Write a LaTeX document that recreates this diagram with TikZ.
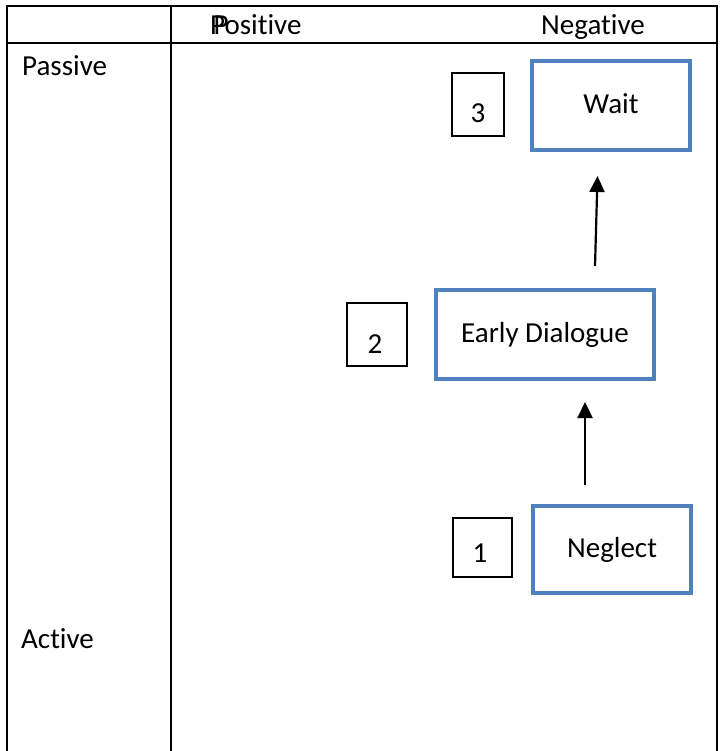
\documentclass[tikz,border=0pt]{standalone}
\usepackage{fontspec}
\setmainfont{Carlito}[Ligatures=NoCommon]
\usetikzlibrary{arrows.meta}
\definecolor{boxblue}{HTML}{4F81BD}
\tikzset{
  grid/.style={line width=2.4pt, black},
  bluebox/.style={draw=boxblue, line width=4pt, inner sep=0pt, font=\fontsize{29}{33}\selectfont},
  numbox/.style={draw=black, line width=1.3pt, inner sep=0pt},
  numtxt/.style={font=\fontsize{29}{33}\selectfont},
  lbl/.style={font=\fontsize{29}{33}\selectfont, inner sep=0pt, anchor=base west},
  flow/.style={line width=2.2pt, -{Triangle[width=15pt,length=16pt]}}
}
\begin{document}
\begin{tikzpicture}[x=1pt,y=-1pt]
\useasboundingbox (0,0) rectangle (721,751);
% table grid
\draw[grid] (7,751) -- (7,6) -- (717,6) -- (717,751);
\draw[grid] (7,43) -- (717,43);
\draw[grid] (171,6) -- (171,751);
% header and row labels
\node[lbl] (pos) at (210,35) {Positive};
\node[lbl] (pos2) at (213.5,35) {P};
\node[lbl] (neg) at (541,35) {Negative};
\node[lbl] (pas) at (22,76) {Passive};
\node[lbl] (act) at (21,648) {Active};
% main boxes
\node[bluebox, minimum width=158pt, minimum height=89pt] (wait) at (611,105.5) {\raisebox{3pt}{Wait}};
\node[bluebox, minimum width=218pt, minimum height=89pt] (early) at (545,334.5) {\raisebox{1pt}{Early Dialogue}};
\node[bluebox, minimum width=158pt, minimum height=87pt] (neglect) at (612,549.5) {\raisebox{2pt}{Neglect}};
% number boxes
\node[numbox, minimum width=52pt, minimum height=63pt, label={[numtxt, yshift=-8.5pt]center:3}] (n3) at (478,104.5) {};
\node[numbox, minimum width=60pt, minimum height=63pt, label={[numtxt, xshift=-2pt, yshift=-10pt]center:2}] (n2) at (377,334.5) {};
\node[numbox, minimum width=59pt, minimum height=59pt, label={[numtxt, xshift=-2.5pt, yshift=-5.5pt]center:1}] (n1) at (482.5,547.5) {};
% arrows
\coordinate (a1s) at (585,485);
\coordinate (a1e) at (585,402);
\coordinate (a2s) at (595,266);
\coordinate (a2e) at (597.5,176);
\draw[flow] (a1s) -- (a1e);
\draw[flow] (a2s) -- (a2e);
\end{tikzpicture}
\end{document}
